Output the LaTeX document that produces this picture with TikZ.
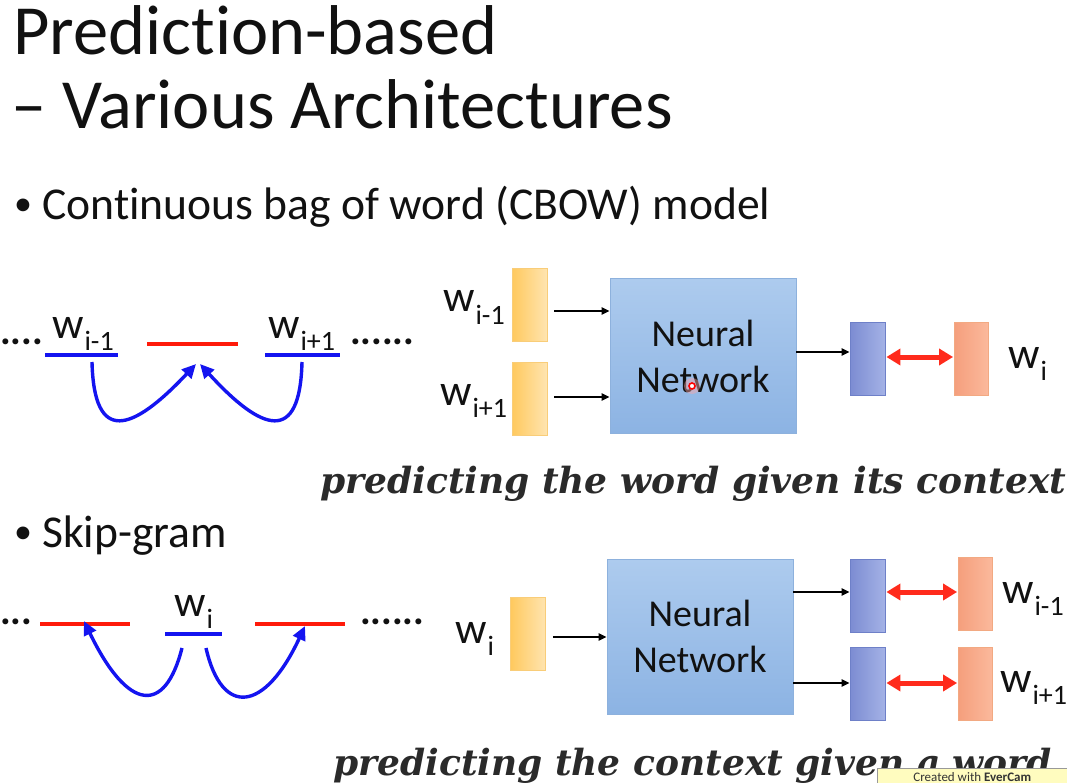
\documentclass[tikz,border=0pt]{standalone}
\usepackage{fontspec}
\setmainfont[Ligatures=NoCommon]{Carlito}
\newfontfamily\capfont{DejaVu Serif}
\usetikzlibrary{arrows.meta}
\definecolor{yelFill}{HTML}{FFD98E}
\definecolor{yelDark}{HTML}{FFC95E}
\definecolor{yelLine}{HTML}{F9CD79}
\definecolor{nnTop}{HTML}{ADCBEE}
\definecolor{nnBot}{HTML}{8CB3E3}
\definecolor{nnLine}{HTML}{8DB1DD}
\definecolor{bluDark}{HTML}{7C8CD2}
\definecolor{bluLite}{HTML}{A4B2E6}
\definecolor{bluLine}{HTML}{6E80C8}
\definecolor{orgDark}{HTML}{F59F7D}
\definecolor{orgLite}{HTML}{FBB99C}
\definecolor{orgLine}{HTML}{F2A982}
\definecolor{ctxBlue}{HTML}{1414F0}
\definecolor{tgtRed}{HTML}{FF1A0A}
\definecolor{arrRed}{HTML}{FF2B1C}
\definecolor{txt}{HTML}{111111}
\definecolor{capt}{HTML}{2A2A2A}
\newcommand{\wlab}[1]{w\kern0.02em\raisebox{-0.28em}{\fontsize{28}{28}\selectfont #1}}
\tikzset{
  inbox/.style={draw=yelLine, line width=0.8pt, left color=yelDark, right color=yelFill!70!white, minimum width=35pt, minimum height=73pt, inner sep=0pt},
  nnbox/.style={draw=nnLine, line width=0.8pt, top color=nnTop, bottom color=nnBot, minimum width=186pt, minimum height=155pt, inner sep=0pt, align=center, font=\fontsize{38}{46}\selectfont, text=txt},
  outbox/.style={draw=bluLine, line width=0.8pt, left color=bluDark, right color=bluLite, minimum width=35pt, minimum height=73pt, inner sep=0pt},
  tgtbox/.style={draw=orgLine, line width=0.8pt, left color=orgDark, right color=orgLite, minimum width=34pt, minimum height=73pt, inner sep=0pt},
  flow/.style={draw=black, line width=2pt, -{Triangle[length=8pt,width=7pt]}},
  match/.style={draw=arrRed, line width=5pt, {Triangle[length=14pt,width=16pt]}-{Triangle[length=14pt,width=16pt]}, shorten <=1pt, shorten >=1pt},
  ctx/.style={draw=ctxBlue, line width=3.2pt},
  gap/.style={draw=tgtRed, line width=3.5pt},
  hop/.style={draw=ctxBlue, line width=3.4pt, -{Triangle[length=14pt,width=13pt]}},
  wlabel/.style={font=\fontsize{44}{44}\selectfont, text=txt, inner sep=0pt, anchor=base west},
  dots/.style={font=\fontsize{40}{40}\selectfont\bfseries, text=txt, inner sep=0pt, anchor=base west},
  heading/.style={font=\fontsize{70.5}{70.5}\selectfont, text=txt, inner sep=0pt, anchor=base west},
  bullet/.style={font=\fontsize{45.6}{45.6}\selectfont, text=txt, inner sep=0pt, anchor=base west},
  bulletdot/.style={font=\fontsize{36}{36}\selectfont, text=txt, inner sep=0pt, anchor=base west},
  caption/.style={font=\capfont\fontsize{36}{36}\selectfont\bfseries\itshape, text=capt, inner sep=0pt, anchor=base west},
}
\begin{document}
\begin{tikzpicture}[x=1pt, y=-1pt]
\useasboundingbox[fill=white] (0,0) rectangle (1067,783);

% heading and bullets
\node[heading] (title1) at (13,55) {Prediction-based};
\node[heading] (title2) at (11,129) {– Various Architectures};
\node[bulletdot] (cbowdot) at (14,216) {•};
\node[bullet] (cbow) at (42,220) {Continuous bag of word (CBOW) model};
\node[bulletdot] (skipdot) at (14,543) {•};
\node[bullet] (skip) at (42,547) {Skip-gram};

% ---------- CBOW: word sequence ----------
\node[dots] (cdl) at (0,344) {....};
\node[wlabel] (cwa) at (52,338) {\wlab{i-1}};
\node[wlabel] (cwb) at (268,338) {\wlab{i+1}};
\node[dots] (cdr) at (350,344) {......};
\coordinate (cla) at (45,355); \coordinate (clb) at (118,355);
\coordinate (cra) at (265,355); \coordinate (crb) at (340,355);
\coordinate (cga) at (147,344); \coordinate (cgb) at (238,344);
\draw[ctx] (cla) -- (clb);
\draw[ctx] (cra) -- (crb);
\draw[gap] (cga) -- (cgb);
\coordinate (cs1) at (92,362); \coordinate (ce1) at (196,364);
\coordinate (cs2) at (302,362); \coordinate (ce2) at (200,364);
\draw[hop] (cs1) .. controls (94,445) and (132,432) .. (ce1);
\draw[hop] (cs2) .. controls (300,445) and (262,432) .. (ce2);

% ---------- CBOW: network ----------
\node[inbox] (cin1) at (529.5,305) {};
\node[inbox] (cin2) at (529.5,399) {};
\node[wlabel] (cl1) at (443,312) {\wlab{i-1}};
\node[wlabel] (cl2) at (440,405) {\wlab{i+1}};
\node[nnbox] (cnn) at (703,356) {Neural\\Network};
\node[outbox] (cout) at (867.5,358.5) {};
\node[tgtbox] (ctgt) at (971.5,359) {};
\node[wlabel] (clt) at (1008,368) {\wlab{i}};
\draw[flow, shorten <=7pt] (cin1.east |- 0,311) -- (cnn.west |- 0,311);
\draw[flow, shorten <=7pt] (cin2.east |- 0,397) -- (cnn.west |- 0,397);
\draw[flow] (cnn.east |- 0,352) -- (cout.west |- 0,352);
\draw[match] (cout.east |- 0,357) -- (ctgt.west |- 0,357);
% pointer spot
\node[circle, fill=red!35, opacity=0.45, minimum size=16pt, inner sep=0pt] (spot) at (692,386) {};
\node[circle, draw=red, line width=1.6pt, fill=white, minimum size=6pt, inner sep=0pt] (spotc) at (692,386) {};

\node[caption] (cap1) at (320,493) {predicting the word given its context};

% ---------- Skip-gram: word sequence ----------
\node[dots] (sdl) at (0,624) {...};
\node[wlabel] (swi) at (174,616) {\wlab{i}};
\node[dots] (sdr) at (360,624) {......};
\coordinate (sma) at (165,634); \coordinate (smb) at (222,634);
\coordinate (sla) at (40,624); \coordinate (slb) at (130,624);
\coordinate (sra) at (255,624); \coordinate (srb) at (345,624);
\draw[gap] (sla) -- (slb);
\draw[gap] (sra) -- (srb);
\draw[ctx] (sma) -- (smb);
\coordinate (ss1) at (182,648); \coordinate (se1) at (84,621);
\coordinate (ss2) at (206,648); \coordinate (se2) at (305,626);
\draw[hop] (ss1) .. controls (165,715) and (128,712) .. (se1);
\draw[hop] (ss2) .. controls (222,718) and (265,712) .. (se2);

% ---------- Skip-gram: network ----------
\node[inbox] (sin) at (528,633.5) {};
\node[wlabel] (sli) at (455,643) {\wlab{i}};
\node[nnbox] (snn) at (700,636.5) {Neural\\Network};
\node[outbox] (so1) at (867.5,595.5) {};
\node[outbox] (so2) at (867.5,683.5) {};
\node[tgtbox] (st1) at (975.5,593.5) {};
\node[tgtbox] (st2) at (975.5,683.5) {};
\node[wlabel] (sl1) at (1002,603) {\wlab{i-1}};
\node[wlabel] (sl2) at (1000,692) {\wlab{i+1}};
\draw[flow, shorten <=7pt] (sin.east |- 0,637) -- (snn.west |- 0,637);
\draw[flow] (snn.east |- 0,592) -- (so1.west |- 0,592);
\draw[flow] (snn.east |- 0,683) -- (so2.west |- 0,683);
\draw[match] (so1.east |- 0,592) -- (st1.west |- 0,592);
\draw[match] (so2.east |- 0,683) -- (st2.west |- 0,683);

\node[caption] (cap2) at (333,775) {predicting the context given a word};

% recorder badge
\node[anchor=north west, fill=yellow!25, draw=black!40, line width=0.6pt, minimum width=190pt, minimum height=20pt, inner sep=2pt, font=\fontsize{13}{13}\selectfont, text=black!80] (badge) at (877,768) {\raisebox{2pt}{Created with \textbf{EverCam}}};
\end{tikzpicture}
\end{document}
